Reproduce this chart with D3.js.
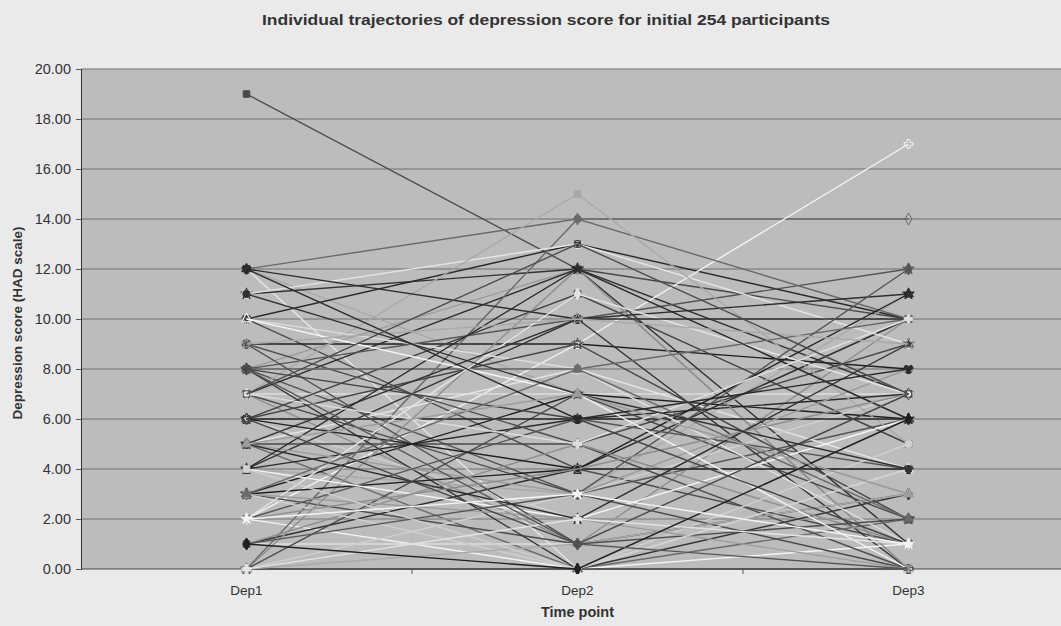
<!DOCTYPE html>
<html>
<head>
<meta charset="utf-8">
<script src="https://cdn.jsdelivr.net/npm/d3@7"></script>
<style>
  body { margin: 0; background: #eaeaea; }
  svg { display: block; font-family: "Liberation Sans", Arial, sans-serif; }
</style>
</head>
<body>
<svg id="chart"></svg>
<script>
const timePoints = ['Dep1', 'Dep2', 'Dep3']
const yTicks = [0, 2, 4, 6, 8, 10, 12, 14, 16, 18, 20]

// one entry per participant line (estimates)
const dep1Scores = [19, 12, 12, 12, 11, 10, 10, 9, 8, 8, 2, 7, 7, 7, 6, 6, 5, 5, 5, 4, 4, 4, 3, 3, 2, 8, 2, 1, 1, 0,
  0, 0, 0, 0, 11, 7, 8, 6, 9, 3, 5, 2, 4, 10, 12, 1, 6, 3, 7, 8, 2, 0, 5, 4, 9, 6, 3, 1, 10, 7,
  5, 2, 8, 4, 6, 3, 0, 9, 11, 12, 7, 1, 5, 8, 2]
const dep2Scores = [12, 14, 0, 7, 12, 13, 4, 9, 12, 3, 9, 7, 12, 1, 11, 2, 5, 0, 8, 3, 10, 6, 1, 7, 2, 10, 0, 1, 4, 12,
  0, 3, 7, 14, 13, 15, 0, 6, 5, 4, 3, 6, 2, 8, 10, 5, 9, 0, 3, 8, 11, 1, 10, 12, 1, 4, 2, 3, 7, 5,
  2, 4, 6, 0, 1, 8, 2, 10, 7, 6, 13, 0, 7, 1, 3]
const dep3Scores = [10, 14, 4, 3, 7, 10, 1, 8, 0, 6, 17, 7, 1, 10, 5, 0, 9, 2, 4, 11, 0, 7, 3, 6, 2, 12, 1, 0, 10, 0,
  0, 7, 2, 10, 9, 5, 3, 6, 0, 11, 8, 4, 6, 1, 11, 1, 2, 5, 0, 10, 7, 3, 10, 6, 2, 4, 0, 12, 0, 10,
  9, 7, 1, 4, 7, 2, 1, 9, 4, 8, 7, 6, 3, 0, 1]

const lineGrays = ['#4a4a4a', '#6a6a6a', '#e4e4e4', '#a9a9a9', '#333333', '#2a2a2a', '#4d4d4d', '#202020',
  '#9c9c9c', '#555555', '#f4f4f4', '#dedede', '#2e2e2e', '#8e8e8e', '#444444', '#cfcfcf']
const markerTypes = [d3.symbolSquare, d3.symbolDiamond, d3.symbolTriangle, d3.symbolCross,
  d3.symbolStar, d3.symbolCircle, d3.symbolWye]

const width = 1061
const height = 626
const plotLeft = 81
const plotTop = 69
const plotBottom = 569

const svg = d3.select('#chart').attr('width', width).attr('height', height)

svg.append('rect').attr('width', width).attr('height', height).attr('fill', '#eaeaea')

const x = d3.scalePoint().domain(timePoints).range([plotLeft, plotLeft + 993]).padding(0.5)
const xBand = d3.scaleBand().domain(timePoints).range([plotLeft, plotLeft + 993])
const y = d3.scaleLinear().domain([0, 20]).range([plotBottom, plotTop])

svg.append('defs').append('clipPath').attr('id', 'plotClip')
  .append('rect').attr('x', plotLeft).attr('y', plotTop - 5).attr('width', width - plotLeft).attr('height', plotBottom - plotTop + 10)

svg.append('rect')
  .attr('x', plotLeft).attr('y', plotTop)
  .attr('width', width - plotLeft).attr('height', plotBottom - plotTop)
  .attr('fill', '#bcbcbc')

// gridlines
svg.append('g').selectAll('line')
  .data(yTicks.filter(d => d > 0))
  .enter().append('line')
  .attr('x1', plotLeft).attr('x2', width)
  .attr('y1', d => y(d)).attr('y2', d => y(d))
  .attr('stroke', '#6f6f6f').attr('stroke-width', 1)

// y axis
const yAxis = svg.append('g')
  .attr('transform', `translate(${plotLeft},0)`)
  .call(d3.axisLeft(y).tickValues(yTicks).tickFormat(d3.format('.2f')).tickSize(5).tickPadding(5))
yAxis.select('.domain').attr('stroke', '#333')
yAxis.selectAll('.tick line').attr('stroke', '#555')
yAxis.selectAll('text').attr('font-size', '14.5px').attr('fill', '#333')

// x axis
const xAxis = svg.append('g')
  .attr('transform', `translate(0,${plotBottom})`)
xAxis.append('line').attr('x1', plotLeft).attr('x2', width).attr('stroke', '#444')
xAxis.selectAll('.sep')
  .data(timePoints.slice(1))
  .enter().append('line')
  .attr('class', 'sep')
  .attr('x1', d => xBand(d)).attr('x2', d => xBand(d))
  .attr('y1', 0).attr('y2', 5)
  .attr('stroke', '#555')
xAxis.selectAll('.lbl')
  .data(timePoints)
  .enter().append('text')
  .attr('class', 'lbl')
  .attr('x', d => x(d)).attr('y', 26)
  .attr('text-anchor', 'middle')
  .attr('font-size', '13.5px').attr('fill', '#333')
  .text(d => d)

// trajectories
const participants = dep1Scores.map((d, i) => [d, dep2Scores[i], dep3Scores[i]])
const line = d3.line().x((d, i) => x(timePoints[i])).y(d => y(d))

const series = svg.append('g').attr('clip-path', 'url(#plotClip)')
  .selectAll('.participant')
  .data(participants)
  .enter().append('g')
  .attr('class', 'participant')

series.append('path')
  .attr('d', d => line(d))
  .attr('fill', 'none')
  .attr('stroke', (d, i) => lineGrays[i % lineGrays.length])
  .attr('stroke-width', 1.4)

series.each(function (d, i) {
  const shade = lineGrays[i % lineGrays.length]
  const symbol = d3.symbol().type(markerTypes[i % markerTypes.length]).size(42)
  d3.select(this).selectAll('path.marker')
    .data(d)
    .enter().append('path')
    .attr('class', 'marker')
    .attr('transform', (v, j) => `translate(${x(timePoints[j])},${y(v)})`)
    .attr('d', symbol)
    .attr('fill', (i % 3 === 1) ? 'none' : shade)
    .attr('stroke', shade)
    .attr('stroke-width', 1)
})

// titles
svg.append('text')
  .attr('x', 546).attr('y', 25)
  .attr('text-anchor', 'middle')
  .attr('font-size', '15px').attr('font-weight', 'bold').attr('fill', '#333')
  .attr('textLength', 568).attr('lengthAdjust', 'spacingAndGlyphs')
  .text('Individual trajectories of depression score for initial 254 participants')

svg.append('text')
  .attr('transform', `translate(22,${(plotTop + plotBottom) / 2 + 4}) rotate(-90)`)
  .attr('text-anchor', 'middle')
  .attr('font-size', '13.5px').attr('font-weight', 'bold').attr('fill', '#333')
  .text('Depression score (HAD scale)')

svg.append('text')
  .attr('x', x('Dep2')).attr('y', 617)
  .attr('text-anchor', 'middle')
  .attr('font-size', '14.5px').attr('font-weight', 'bold').attr('fill', '#333')
  .text('Time point')
</script>
</body>
</html>
